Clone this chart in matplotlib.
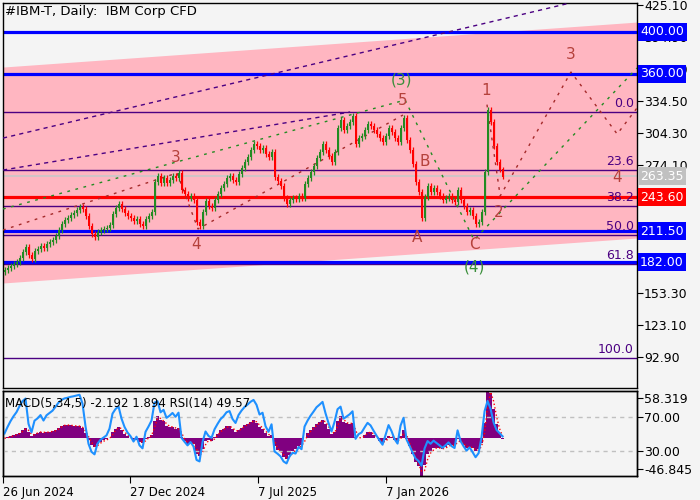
import matplotlib
matplotlib.use("Agg")
import matplotlib.pyplot as plt
import matplotlib.transforms as mtransforms
import numpy as np

BG = "#F4F4F4"

# closing prices every 3 trading days (26 Jun 2024 onwards)
closes = [
    174.8, 176.6, 178.5, 180.4, 182.3, 186.1, 191.8, 196.5, 188.9, 185.1,
    192.7, 194.6, 197.4, 195.5, 199.3, 201.2, 203.1, 206.9, 212.5, 218.2,
    222.0, 223.9, 226.7, 228.6, 231.4, 234.3, 232.4, 225.8, 216.3, 208.8,
    205.9, 210.7, 212.5, 213.5, 214.4, 217.3, 227.7, 233.3, 237.1, 232.4,
    228.6, 225.8, 223.9, 221.0, 222.9, 218.2, 216.3, 222.9, 225.8, 229.5,
    257.9, 263.5, 257.0, 261.7, 257.0, 259.8, 263.5, 261.7, 266.4, 250.3,
    246.5, 242.8, 244.7, 240.9, 220.1, 216.3, 229.5, 239.9, 235.2, 233.3,
    240.9, 246.5, 252.2, 256.0, 261.7, 263.5, 259.8, 257.9, 265.4, 271.1,
    276.8, 281.5, 288.1, 293.8, 291.9, 288.1, 290.0, 284.3, 281.5, 286.2,
    262.6, 258.8, 254.1, 242.8, 237.1, 240.9, 242.8, 241.8, 244.7, 242.8,
    256.0, 261.7, 267.3, 273.0, 280.6, 286.2, 293.8, 288.1, 282.5, 276.8,
    286.2, 308.9, 316.4, 307.0, 310.8, 314.6, 320.2, 293.8, 299.4, 301.3,
    307.0, 312.7, 310.8, 307.0, 303.2, 299.4, 295.7, 301.3, 308.9, 305.1,
    299.4, 295.7, 308.9, 318.3, 297.6, 288.1, 274.9, 257.9, 248.4, 224.0,
    243.7, 254.1, 248.4, 252.2, 248.4, 244.7, 240.9, 242.8, 244.7, 240.9,
    239.0, 250.3, 240.9, 235.2, 229.5, 231.4, 225.8, 218.2, 220.1, 229.5,
    267.3, 326.0, 314.6, 291.9, 276.7, 269.8, 263.35,
]
first_open = 173.0

# channel, wave and fibonacci levels
channel_x = [-0.5, 210.8]
channel_top = [366.5, 409.0]
channel_bottom = [162.5, 205.0]
hlines = [(400.00, "#0000FF"), (360.00, "#0000FF"), (243.60, "#FF0000"),
          (211.50, "#0000FF"), (182.00, "#0000FF")]
last_price = 263.35
fib_high, fib_low = 323.8, 91.4
fib_ratios = [0.0, 23.6, 38.2, 50.0, 61.8, 100.0]

wave_major_x = [-0.5, 133.5, 156.5, 210.8]
wave_major_y = [232.4, 335.3, 203.1, 365.6]
wave_minor1_x = [-0.5, 57.5, 64.5, 132.8]
wave_minor1_y = [212.5, 266.4, 213.5, 321.2]
wave_minor2_x = [160.8, 165.2, 188.8, 204.2, 210.8]
wave_minor2_y = [331.0, 244.7, 361.8, 303.2, 327.8]
trend_hi_x = [-0.5, 188.5]
trend_hi_y = [299.4, 427.0]
trend_lo_x = [-0.5, 115.2]
trend_lo_y = [269.2, 324.0]

wave_labels = [("3", 57.2, 281.5, "#B5413B"), ("4", 63.8, 198.4, "#B5413B"),
               ("5", 132.8, 335.3, "#B5413B"), ("(3)", 132.2, 354.2, "#3A8E3A"),
               ("B", 140.2, 276.8, "#B5413B"), ("A", 137.5, 205.9, "#B5413B"),
               ("C", 156.5, 199.3, "#B5413B"), ("(4)", 156.5, 177.6, "#3A8E3A"),
               ("1", 160.5, 344.8, "#B5413B"), ("2", 164.8, 229.5, "#B5413B"),
               ("3", 188.8, 378.8, "#B5413B"), ("4", 204.2, 261.7, "#B5413B")]

price_ticks = [425.1, 394.9, 364.7, 334.5, 304.3, 274.1, 243.9, 213.7, 183.5, 153.3, 123.1, 92.9]
hidden_ticks = [243.9, 213.7, 183.5]  # sit fully under the level boxes
date_pos = [-0.5, 41.8, 84.5, 127.2]
date_labels = ["26 Jun 2024", "27 Dec 2024", "7 Jul 2025", "7 Jan 2026"]


def ema(values, n):
    out = np.empty(len(values))
    a = 2.0 / (n + 1)
    out[0] = values[0]
    for i in range(1, len(values)):
        out[i] = a * values[i] + (1 - a) * out[i - 1]
    return out


def rsi(values, n):
    d = np.diff(values, prepend=values[0])
    up = np.where(d > 0, d, 0.0)
    dn = np.where(d < 0, -d, 0.0)
    au, ad = np.empty(len(d)), np.empty(len(d))
    au[0], ad[0] = 1.0, 1.0
    for i in range(1, len(d)):
        au[i] = (au[i - 1] * (n - 1) + up[i]) / n
        ad[i] = (ad[i - 1] * (n - 1) + dn[i]) / n
    return 100 - 100 / (1 + au / np.maximum(ad, 1e-9))


c = np.array(closes)
o = np.array([first_open] + closes[:-1])
x = np.arange(len(c))
hi = np.maximum(o, c) + 2.5
lo = np.minimum(o, c) - 2.5

fig = plt.figure(figsize=(7, 5), dpi=100, facecolor=BG)
ax = fig.add_axes([3 / 700, 112 / 500, 634 / 700, 385 / 500], facecolor=BG)
ax.set_xlim(-0.5, 210.8)
ax.set_ylim(63.3, 427.0)

ax.fill_between(channel_x, channel_bottom, channel_top, color="#FFB6C1", lw=0, zorder=0)

for r in fib_ratios:
    lvl = fib_high - r / 100 * (fib_high - fib_low)
    ax.axhline(lvl, color="#4B0082", lw=1, zorder=1)
    ax.text(209.8, lvl + 2, f"{r:.1f}", color="#4B0082", fontsize=9,
            ha="right", va="bottom", zorder=6)

ax.axhline(last_price, color="#C8C8C8", lw=1.2, zorder=1)
for lvl, col in hlines:
    ax.axhline(lvl, color=col, lw=2.3, zorder=2)

ax.plot(trend_hi_x, trend_hi_y, color="#4B0082", lw=1, ls=(0, (3, 3)), zorder=3)
ax.plot(trend_lo_x, trend_lo_y, color="#4B0082", lw=1, ls=(0, (3, 3)), zorder=3)
ax.plot(wave_major_x, wave_major_y, color="#228B22", lw=1, ls=(0, (2, 4)), zorder=3)
ax.plot(wave_minor1_x, wave_minor1_y, color="#A52A2A", lw=1, ls=(0, (2, 4)), zorder=3)
ax.plot(wave_minor2_x, wave_minor2_y, color="#A52A2A", lw=1, ls=(0, (2, 4)), zorder=3)

colors = np.where(c >= o, "#228B22", "#FF0000")
ax.vlines(x, lo, hi, colors=colors, lw=0.9, zorder=4)
ax.bar(x, np.abs(c - o) + 0.6, bottom=np.minimum(o, c) - 0.3, width=0.6,
       color=colors, lw=0, zorder=4)

for txt, bx, by, col in wave_labels:
    ax.text(bx, by, txt, color=col, fontsize=11, ha="center", va="center", zorder=6)

ax.yaxis.tick_right()
ax.set_yticks(price_ticks)
ax.set_yticklabels(["" if t in hidden_ticks else f"{t:.2f}" for t in price_ticks])
ax.tick_params(axis="y", direction="out", length=4, labelsize=9, pad=1, colors="black")
ax.set_xticks([])
for s in ax.spines.values():
    s.set_color("black")
    s.set_linewidth(1)

trans = mtransforms.blended_transform_factory(ax.transAxes, ax.transData)
for lvl, col in hlines + [(last_price, "#C0C0C0")]:
    ax.text(1.005, lvl, f"{lvl:.2f}", transform=trans, color="white", fontsize=9,
            ha="left", va="center", clip_on=False, zorder=10,
            bbox=dict(boxstyle="square,pad=0.2", fc=col, ec="none"))

fig.text(5 / 700, 1 - 12 / 500, "#IBM-T, Daily:  IBM Corp CFD", fontsize=9.5,
         ha="left", va="center")

# indicator window: MACD(5,34,5) histogram + RSI(14), periods scaled to 3-day bars
macd = ema(c, 2) - ema(c, 11)
signal = np.convolve(macd, np.ones(2) / 2, mode="full")[:len(macd)]
signal[0] = macd[0]
r14 = rsi(c, 6)

ax2 = fig.add_axes([3 / 700, 24 / 500, 634 / 700, 85 / 500], facecolor=BG)
ax2.set_xlim(-0.5, 210.8)
ax2.bar(x, macd, width=1.0, color="#800080", lw=0)
ax2.plot(x, signal, color="#FF0000", lw=1, ls=":")
lo_m = min(macd.min(), signal.min())
hi_m = max(macd.max(), signal.max())
ax2.set_ylim(lo_m, hi_m)
ax2.set_yticks([])

ax3 = ax2.twinx()
ax3.set_ylim(0, 100)
ax3.axhline(70, color="#C0C0C0", lw=1, ls=(0, (3, 3)))
ax3.axhline(30, color="#C0C0C0", lw=1, ls=(0, (3, 3)))
ax3.plot(x, r14, color="#1E90FF", lw=1.5)
ax3.set_yticks([91.2, 70, 30, 8.8])
ax3.set_yticklabels(["58.319", "70.00", "30.00", "-46.845"])
ax3.tick_params(axis="y", direction="out", length=4, labelsize=9, pad=1)

ax2.set_xticks(date_pos)
ax2.set_xticklabels(date_labels)
ax2.tick_params(axis="x", direction="out", length=5, labelsize=8.5, pad=2)
for lab in ax2.get_xticklabels():
    lab.set_ha("left")
for a in (ax2, ax3):
    for s in a.spines.values():
        s.set_color("black")
        s.set_linewidth(1)

fig.text(5 / 700, 1 - 403 / 500, "MACD(5,34,5) -2.192 1.894 RSI(14) 49.57",
         fontsize=8.5, ha="left", va="center")

fig.savefig("out.png", dpi=100, facecolor=BG)
